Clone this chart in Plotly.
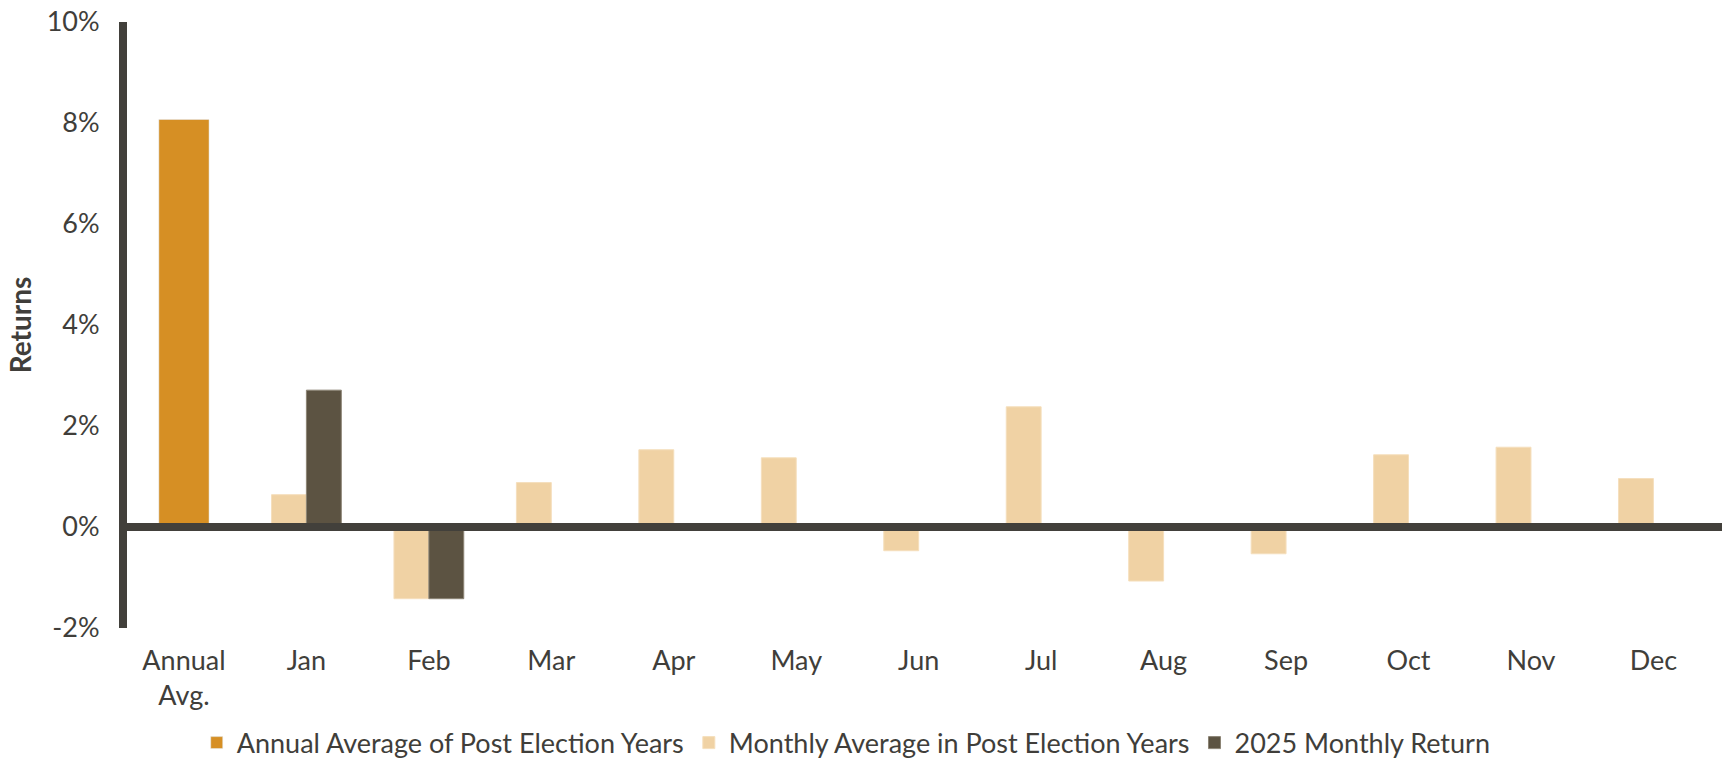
import plotly.graph_objects as go

categories = ["Annual<br>Avg.", "Jan", "Feb", "Mar", "Apr", "May", "Jun",
              "Jul", "Aug", "Sep", "Oct", "Nov", "Dec"]
months = categories[1:]

annual_avg = [8.07]
monthly_avg = [0.64, -1.42, 0.88, 1.53, 1.37, -0.47, 2.38, -1.07, -0.53, 1.43, 1.58, 0.96]
months_2025 = ["Jan", "Feb"]
returns_2025 = [2.71, -1.42]

y_ticks = [-2, 0, 2, 4, 6, 8, 10]
y_tick_labels = ["-2%", "0%", "2%", "4%", "6%", "8%", "10%"]

ink = "#403e3a"
font = "Lato"


def main():
    fig = go.Figure()

    fig.add_trace(go.Bar(
        x=categories[:1], y=annual_avg, name="Annual Average of Post Election Years",
        marker_color="#d68f24", width=0.41, offset=-0.205,
    ))
    fig.add_trace(go.Bar(
        x=months, y=monthly_avg, name="Monthly Average in Post Election Years",
        marker=dict(color="#f0d2a4", line=dict(color="#f5dfbd", width=1)),
        width=0.285, offset=-0.285,
    ))
    fig.add_trace(go.Bar(
        x=months_2025, y=returns_2025, name="2025 Monthly Return",
        marker=dict(color="#5c5342", line=dict(color="#8c8475", width=1)),
        width=0.285, offset=0,
    ))

    # zero line drawn on top of the bars
    fig.add_shape(type="line", xref="paper", x0=0, x1=1, yref="y", y0=0, y1=0,
                  line=dict(color="#42403b", width=8), layer="above")

    fig.update_layout(
        width=1727, height=759,
        barmode="overlay",
        plot_bgcolor="white", paper_bgcolor="white",
        margin=dict(l=127, r=5, t=22, b=131),
        font=dict(family=font, size=27, color=ink),
        showlegend=True,
        legend=dict(orientation="h", xref="container", yref="container",
                    x=0.49, xanchor="center", y=0.021, yanchor="middle",
                    font=dict(size=27, color=ink), traceorder="normal"),
    )

    fig.update_xaxes(
        categoryorder="array", categoryarray=categories,
        range=[-0.465, 12.56], showgrid=False, showline=False,
        ticks="", ticklabelstandoff=14,
        tickfont=dict(size=27, color=ink),
    )
    fig.update_yaxes(
        range=[-2, 10], tickvals=y_ticks, ticktext=y_tick_labels,
        showgrid=False, zeroline=False,
        showline=True, linewidth=8, linecolor="#42403b", layer="above traces",
        ticks="", ticklabelstandoff=14,
        tickfont=dict(size=27, color=ink),
        title=dict(text="<b>Returns</b>", font=dict(size=28, color=ink), standoff=10),
    )

    # the page has a default body margin; drop it so the figure sits at the corner
    fig.write_html("out.html", config={"displayModeBar": False},
                   post_script="document.body.style.margin='0';")


if __name__ == "__main__":
    main()
